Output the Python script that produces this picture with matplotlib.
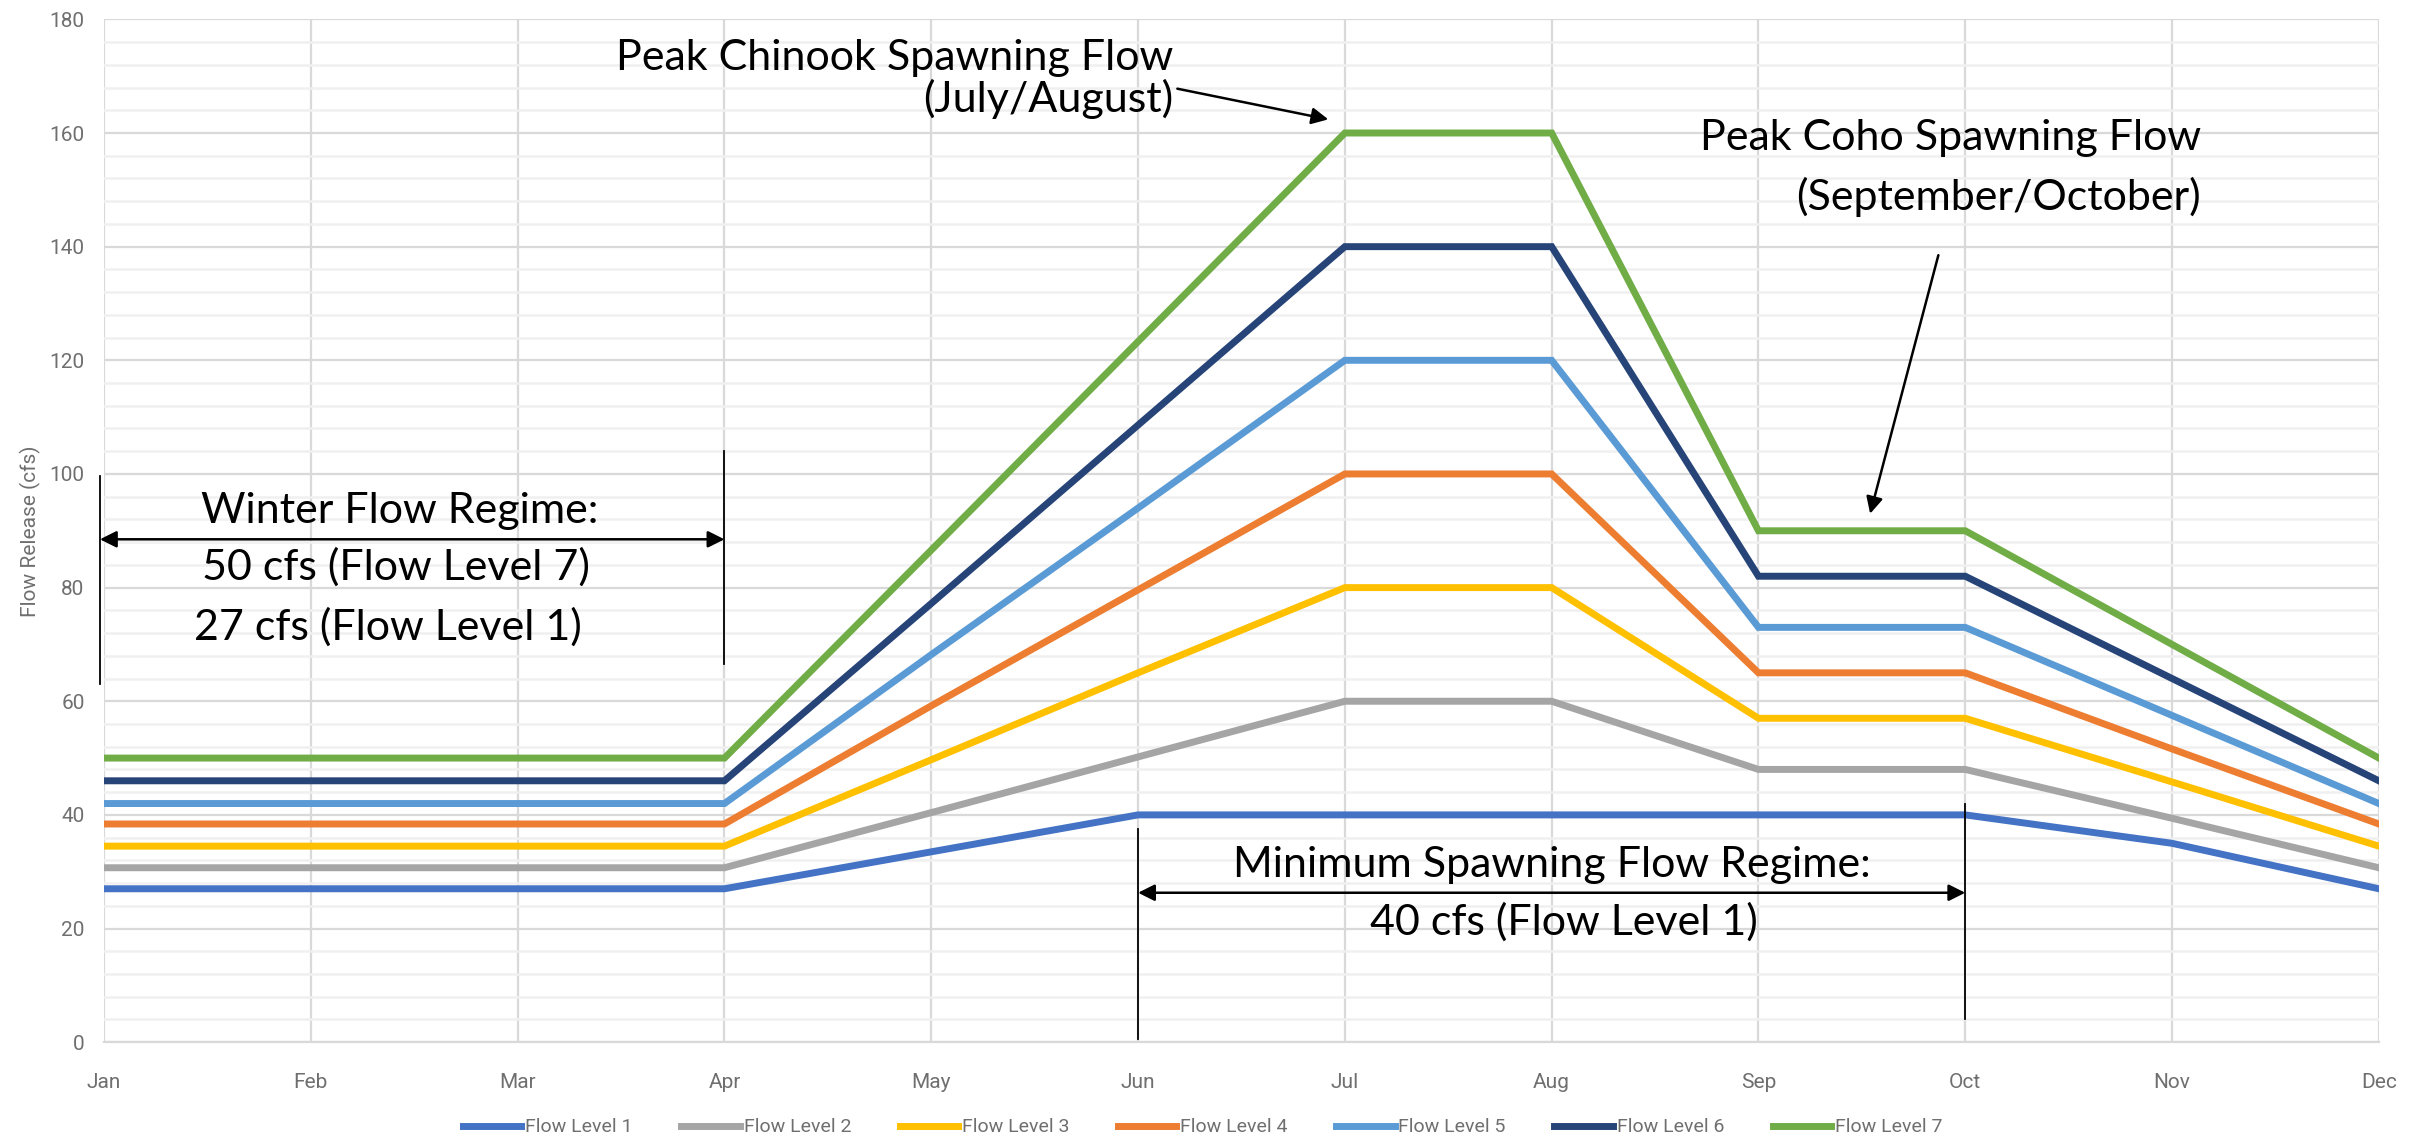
import matplotlib
matplotlib.use("Agg")
import matplotlib.pyplot as plt
from matplotlib.ticker import MultipleLocator

months = ["Jan", "Feb", "Mar", "Apr", "May", "Jun", "Jul", "Aug", "Sep", "Oct", "Nov", "Dec"]
series_names = ["Flow Level 1", "Flow Level 2", "Flow Level 3", "Flow Level 4",
                "Flow Level 5", "Flow Level 6", "Flow Level 7"]
level1 = [27, 27, 27, 27, 33.5, 40, 40, 40, 40, 40, 35, 27]
level2 = [30.7, 30.7, 30.7, 30.7, 40.4, 50.2, 60, 60, 48, 48, 39.4, 30.7]
level3 = [34.5, 34.5, 34.5, 34.5, 49.7, 65, 80, 80, 57, 57, 45.8, 34.5]
level4 = [38.4, 38.4, 38.4, 38.4, 59.2, 79.6, 100, 100, 65, 65, 51.6, 38.4]
level5 = [42, 42, 42, 42, 68.2, 94, 120, 120, 73, 73, 57.5, 42]
level6 = [46, 46, 46, 46, 77.2, 108.6, 140, 140, 82, 82, 64, 46]
level7 = [50, 50, 50, 50, 86.6, 123.3, 160, 160, 90, 90, 70, 50]
series = [level1, level2, level3, level4, level5, level6, level7]
colors = ["#4472C4", "#A5A5A5", "#FFC000", "#ED7D31", "#5B9BD5", "#264478", "#70AD47"]

ann_font = ["Lato", "DejaVu Sans"]
tick_font = ["Liberation Sans Narrow", "Roboto", "DejaVu Sans"]

fig = plt.figure(figsize=(24.2, 11.39), dpi=100)
ax = fig.add_axes([0.043, 0.085, 0.940, 0.898])

x = list(range(len(months)))
for vals, name, c in zip(series, series_names, colors):
    ax.plot(x, vals, color=c, lw=5, label=name, solid_joinstyle="miter", zorder=3)

ax.set_xlim(0, 11)
ax.set_ylim(0, 180)
ax.set_xticks(x)
ax.set_xticklabels(months)
ax.yaxis.set_major_locator(MultipleLocator(20))
ax.yaxis.set_minor_locator(MultipleLocator(4))
ax.grid(True, which="major", axis="both", color="#D9D9D9", lw=1.6, zorder=0)
ax.grid(True, which="minor", axis="y", color="#F0F0F0", lw=1.8, zorder=0)
for s in ["top", "right", "left"]:
    ax.spines[s].set_visible(False)
ax.spines["bottom"].set_color("#D9D9D9")
ax.spines["bottom"].set_linewidth(1.6)
ax.tick_params(axis="both", which="both", length=0, colors="#6F6F6F", labelsize=15)
ax.tick_params(axis="x", pad=22)
ax.tick_params(axis="y", pad=14)
for lab in ax.get_xticklabels() + ax.get_yticklabels():
    lab.set_family(tick_font)
ax.set_ylabel("Flow Release (cfs)", fontsize=15, color="#6F6F6F", family=tick_font, labelpad=6)

fs = 31
# Winter flow regime
ax.plot([-0.02, -0.02], [63, 99.6], color="black", lw=1.3, clip_on=False, zorder=4)
ax.plot([3.0, 3.0], [66.5, 104], color="black", lw=1.3, clip_on=False, zorder=4)
ax.annotate("", xy=(-0.02, 88.5), xytext=(3.0, 88.5),
            arrowprops=dict(arrowstyle="<|-|>", color="black", lw=1.8, mutation_scale=25,
                            shrinkA=0, shrinkB=0), annotation_clip=False, zorder=4)
ax.text(1.43, 93.4, "Winter Flow Regime:", fontsize=fs, family=ann_font, ha="center", va="center", zorder=5)
ax.text(1.41, 83.6, "50 cfs (Flow Level 7)", fontsize=fs, family=ann_font, ha="center", va="center", zorder=5)
ax.text(1.37, 73.0, "27 cfs (Flow Level 1)", fontsize=fs, family=ann_font, ha="center", va="center", zorder=5)

# Minimum spawning flow regime
ax.plot([5.0, 5.0], [0.5, 37.5], color="black", lw=1.3, zorder=4)
ax.plot([9.0, 9.0], [4, 42], color="black", lw=1.3, zorder=4)
ax.annotate("", xy=(5.0, 26.3), xytext=(9.0, 26.3),
            arrowprops=dict(arrowstyle="<|-|>", color="black", lw=1.8, mutation_scale=25,
                            shrinkA=0, shrinkB=0), zorder=4)
ax.text(7.0, 31.2, "Minimum Spawning Flow Regime:", fontsize=fs, family=ann_font, ha="center", va="center", zorder=5)
ax.text(7.06, 21.2, "40 cfs (Flow Level 1)", fontsize=fs, family=ann_font, ha="center", va="center", zorder=5)

# Chinook
ax.text(5.17, 173.2, "Peak Chinook Spawning Flow", fontsize=fs, family=ann_font, ha="right", va="center", zorder=5)
ax.text(5.17, 166.0, "(July/August)", fontsize=fs, family=ann_font, ha="right", va="center", zorder=5)
ax.annotate("", xy=(5.92, 162.4), xytext=(5.19, 167.8),
            arrowprops=dict(arrowstyle="-|>", color="black", lw=1.8, mutation_scale=25,
                            shrinkA=0, shrinkB=0), zorder=5)

# Coho
ax.text(10.14, 159.1, "Peak Coho Spawning Flow", fontsize=fs, family=ann_font, ha="right", va="center", zorder=5)
ax.text(10.14, 148.8, "(September/October)", fontsize=fs, family=ann_font, ha="right", va="center", zorder=5)
ax.annotate("", xy=(8.54, 93.0), xytext=(8.87, 138.5),
            arrowprops=dict(arrowstyle="-|>", color="black", lw=1.8, mutation_scale=25,
                            shrinkA=0, shrinkB=0), zorder=5)

leg = fig.legend(loc="lower center", bbox_to_anchor=(0.497, -0.013), ncol=7, frameon=False,
                 prop={"family": tick_font, "size": 14}, handlelength=3.0, columnspacing=2.5,
                 handletextpad=0.2)
for t in leg.get_texts():
    t.set_color("#6F6F6F")

fig.savefig("out.png", dpi=100)
